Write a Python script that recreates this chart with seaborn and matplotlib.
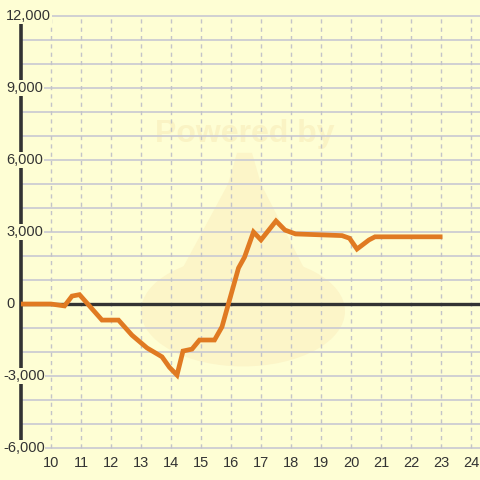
import matplotlib
matplotlib.use("Agg")
import matplotlib.pyplot as plt
import matplotlib.patches as mpatches
import seaborn as sns
import pandas as pd

# ----------------------------
# Data
# ----------------------------
hours = [9.0, 10.0, 10.45, 10.7, 10.95, 11.7, 12.25, 12.7, 13.2, 13.7, 13.95,
         14.2, 14.4, 14.7, 14.95, 15.45, 15.7, 16.25, 16.45, 16.75, 17.0,
         17.5, 17.8, 18.15, 19.7, 19.95, 20.2, 20.6, 20.8, 23.05]
values = [0, 0, -80, 330, 390, -670, -670, -1300, -1830, -2200, -2640,
          -2960, -1960, -1880, -1500, -1500, -950, 1500, 1950, 3000, 2670,
          3460, 3080, 2920, 2850, 2740, 2290, 2670, 2800, 2800]
x_ticks = list(range(10, 25))
y_ticks = [-6000, -3000, 0, 3000, 6000, 9000, 12000]
y_grid = list(range(-6000, 12001, 1000))

BG = "#fefed4"
LINE = "#e07a22"
GRID = "#c9c9d2"
AXIS = "#333333"

df = pd.DataFrame({"hour": hours, "value": values})

sns.set_theme(style="white")
plt.rcParams["font.family"] = ["Liberation Sans", "DejaVu Sans"]

fig = plt.figure(figsize=(4.8, 4.8), dpi=100)
fig.patch.set_facecolor(BG)
ax = fig.add_axes([0, 0, 1, 1])
ax.set_facecolor(BG)
ax.set_xlim(8.3, 24.3)
ax.set_ylim(-7333, 12667)
ax.axis("off")

# faint watermark
WM = "#fcf5c8"
ax.add_patch(mpatches.Ellipse((16.4, -300), 6.8, 4600, color=WM, zorder=0, lw=0))
ax.add_patch(mpatches.Polygon([[14.0, 600], [15.9, 5000], [16.2, 6300], [16.7, 6300],
                               [17.0, 5000], [18.8, 600]],
                              closed=True, color=WM, zorder=0, lw=0))
ax.text(16.45, 7100, "Powered by", ha="center", va="center", fontsize=23,
        fontweight="bold", color="#faf3c4", zorder=0)

# grid
ax.hlines([v for v in y_grid if v != 0], 9.0, 24.3, color=GRID, lw=1.2, zorder=1)
ax.vlines(x_ticks, -6000, 12000, color="#c4c4c8", lw=1, linestyles=(0, (3, 3)), zorder=1)

# axes lines
ax.hlines(0, 9.0, 24.3, color=AXIS, lw=2.4, zorder=2)
ax.vlines(9.0, -6000, 12000, color=AXIS, lw=2.6, zorder=2)

# series
sns.lineplot(data=df, x="hour", y="value", ax=ax, color=LINE, lw=3.4,
             sort=False, zorder=3, solid_joinstyle="miter", solid_capstyle="butt")

# tick labels
for v in y_ticks:
    left = 3 if v < 0 else 6
    ax.text(left / 480, v, f"{v:,}", transform=ax.get_yaxis_transform(),
            ha="left", va="center", fontsize=10.5, color=AXIS, zorder=4,
            bbox=dict(facecolor=BG, edgecolor="none", pad=0.5))
for h in x_ticks:
    ax.text(h, -6625, str(h), ha="center", va="center", fontsize=10.5,
            color=AXIS, zorder=4)

fig.savefig("out.png", dpi=100, facecolor=BG)
